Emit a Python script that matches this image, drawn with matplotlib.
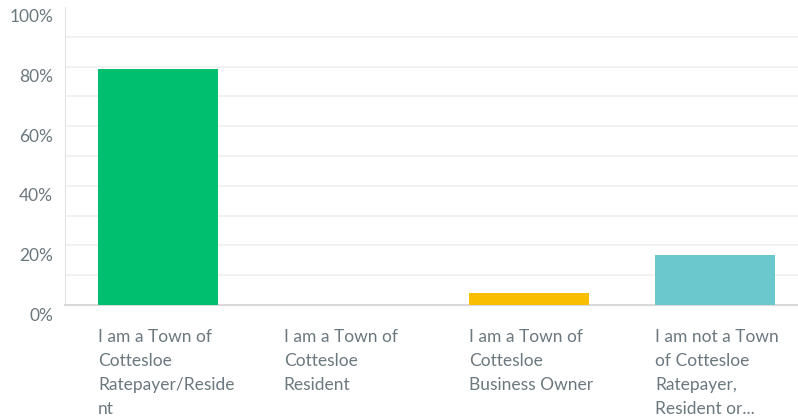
import matplotlib
matplotlib.use("Agg")
import matplotlib.pyplot as plt
import matplotlib.transforms as mtransforms
import numpy as np

categories = [
    "I am a Town of\nCottesloe\nRatepayer/Reside\nnt",
    "I am a Town of\nCottesloe\nResident",
    "I am a Town of\nCottesloe\nBusiness Owner",
    "I am not a Town\nof Cottesloe\nRatepayer,\nResident or...",
]
values = [79.17, 0.0, 4.17, 16.67]
colors = ["#00BF6F", "#00BF6F", "#F9BE00", "#6BC8CD"]
yticks = [0, 20, 40, 60, 80, 100]
ytick_labels = ["0%", "20%", "40%", "60%", "80%", "100%"]

W, H = 798, 419
fig = plt.figure(figsize=(W / 100, H / 100), dpi=100)
left, right, top, bottom = 65, 808, 7, 305
ax = fig.add_axes([left / W, 1 - bottom / H, (right - left) / W, (bottom - top) / H])

x = np.arange(len(categories))
width = 0.645
ax.bar(x, values, width=width, color=colors, zorder=3)

ax.set_xlim(-0.5, len(categories) - 0.5)
ax.set_ylim(0, 100)

txt_color = "#6B787F"
font = "Lato"

ax.set_yticks(yticks)
ax.set_yticklabels(ytick_labels, fontsize=12.5, color=txt_color, family=font)
ax.set_yticks(np.arange(10, 100, 20), minor=True)
ax.tick_params(axis="y", which="both", length=0, pad=8.5)
offset = mtransforms.ScaledTranslation(0, -9 / 100, fig.dpi_scale_trans)
for lab in ax.get_yticklabels():
    lab.set_transform(lab.get_transform() + offset)

ax.set_xticks(x - width / 2)
ax.set_xticklabels(categories, ha="left", fontsize=12.5, color=txt_color,
                   family=font, linespacing=1.6)
ax.tick_params(axis="x", length=0, pad=17.5)

ax.grid(axis="y", which="both", color="#EFEFEF", linewidth=1.2, zorder=0)
ax.yaxis.get_gridlines()[-1].set_visible(False)

for s in ["top", "right"]:
    ax.spines[s].set_visible(False)
ax.spines["left"].set_color("#E3E3E3")
ax.spines["bottom"].set_color("#D9D9D9")
ax.spines["bottom"].set_linewidth(1.5)

fig.savefig("out.png", dpi=100)
